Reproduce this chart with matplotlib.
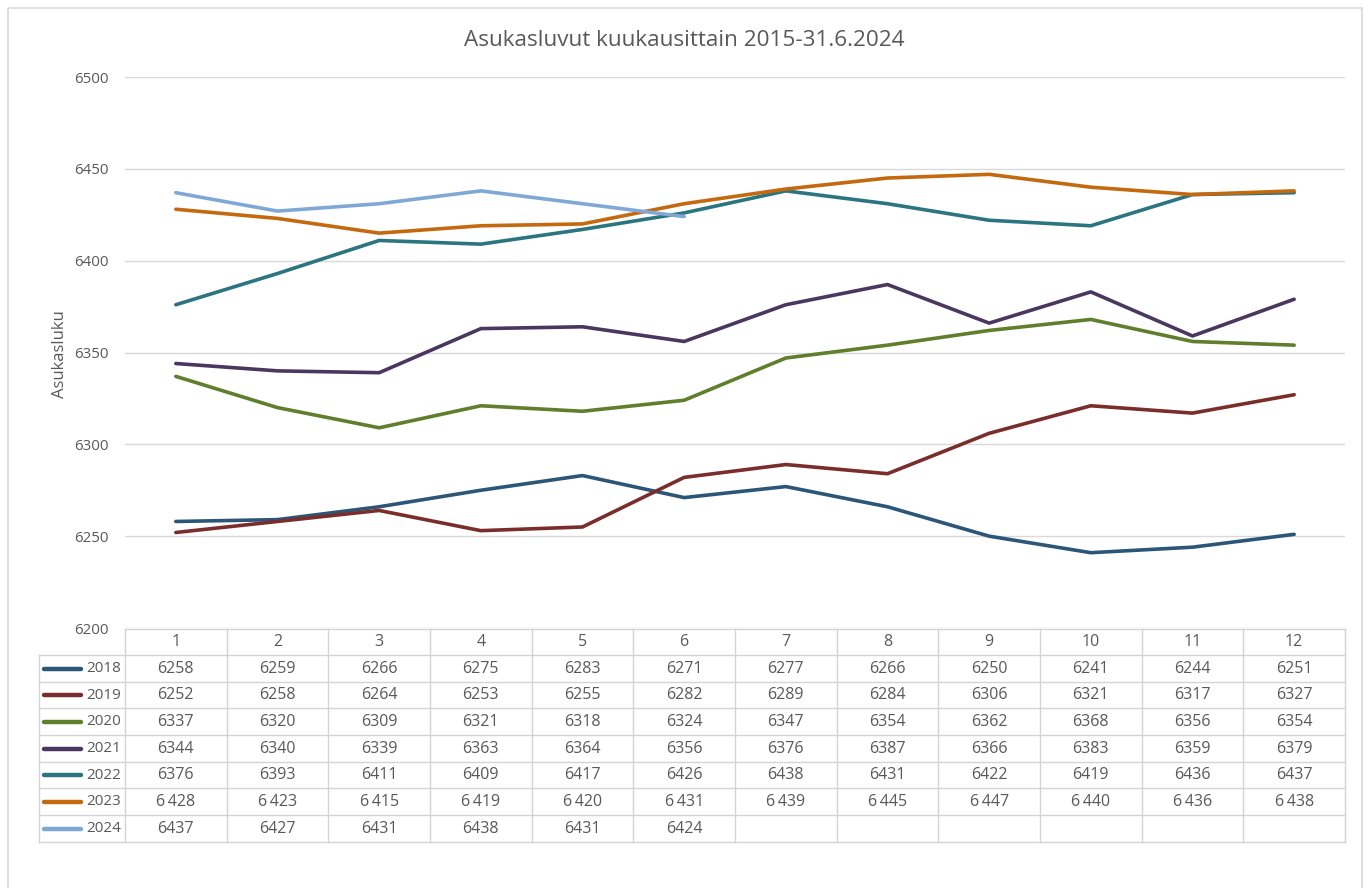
import matplotlib
matplotlib.use("Agg")
import matplotlib.pyplot as plt
from matplotlib.patches import Rectangle

months = [1, 2, 3, 4, 5, 6, 7, 8, 9, 10, 11, 12]
years = ["2018", "2019", "2020", "2021", "2022", "2023", "2024"]
v2018 = [6258, 6259, 6266, 6275, 6283, 6271, 6277, 6266, 6250, 6241, 6244, 6251]
v2019 = [6252, 6258, 6264, 6253, 6255, 6282, 6289, 6284, 6306, 6321, 6317, 6327]
v2020 = [6337, 6320, 6309, 6321, 6318, 6324, 6347, 6354, 6362, 6368, 6356, 6354]
v2021 = [6344, 6340, 6339, 6363, 6364, 6356, 6376, 6387, 6366, 6383, 6359, 6379]
v2022 = [6376, 6393, 6411, 6409, 6417, 6426, 6438, 6431, 6422, 6419, 6436, 6437]
v2023 = [6428, 6423, 6415, 6419, 6420, 6431, 6439, 6445, 6447, 6440, 6436, 6438]
v2024 = [6437, 6427, 6431, 6438, 6431, 6424]
series = [v2018, v2019, v2020, v2021, v2022, v2023, v2024]
colors = ["#2C5677", "#7A2E2B", "#5F7F2C", "#4A3760", "#2B7581", "#C5690F", "#7FA8D6"]
yticks = [6200, 6250, 6300, 6350, 6400, 6450, 6500]
title = "Asukasluvut kuukausittain 2015-31.6.2024"
ylabel = "Asukasluku"

W, H = 1369, 888
FONT = "Open Sans"
TXT = "#595959"
GRID = "#D9D9D9"

fig = plt.figure(figsize=(W / 100, H / 100), dpi=100)
fig.patch.set_facecolor("white")

# overlay axes in pixel coordinates (for border and table)
ov = fig.add_axes([0, 0, 1, 1])
ov.set_xlim(0, W)
ov.set_ylim(H, 0)
ov.axis("off")
ov.add_patch(Rectangle((8, 8), 1354, 900, fill=False, edgecolor="#D9D9D9", lw=1.2))

# main plot
L, R, T, B = 125, 1345, 77, 628
ax = fig.add_axes([L / W, 1 - B / H, (R - L) / W, (B - T) / H])
ax.set_zorder(2)
ax.patch.set_alpha(0)
ax.set_xlim(0.5, 12.5)
ax.set_ylim(6200, 6500)
ax.set_yticks(yticks)
ax.set_xticks([])
ax.grid(axis="y", color=GRID, lw=1.0)
ax.set_axisbelow(True)
for s in ax.spines.values():
    s.set_visible(False)
ax.tick_params(axis="y", length=0, pad=12, labelsize=10.8, labelcolor=TXT)
for lab in ax.get_yticklabels():
    lab.set_fontfamily(FONT)
for vals, c in zip(series, colors):
    ax.plot(months[:len(vals)], vals, color=c, lw=2.6, solid_capstyle="round", solid_joinstyle="round")

fig.text(0.5, 1 - 40 / H, title, ha="center", va="center", fontsize=16.2, color=TXT, family=FONT)
fig.text(60 / W, 1 - 354 / H, ylabel, ha="center", va="center", rotation=90, fontsize=12, color=TXT, family=FONT)

# table
row_y = [629, 655, 682, 708, 735, 762, 788, 815, 842]
colw = (R - L) / 12
LEG_L = 39
tc = "#D4D4D4"
# horizontal lines
ov.plot([L, R], [row_y[0], row_y[0]], color=tc, lw=1)
for y in row_y[1:]:
    ov.plot([LEG_L, R], [y, y], color=tc, lw=1)
# vertical lines
ov.plot([LEG_L, LEG_L], [row_y[1], row_y[-1]], color=tc, lw=1)
for i in range(13):
    x = L + i * colw
    ov.plot([x, x], [row_y[0], row_y[-1]], color=tc, lw=1)

def cy(i):
    return (row_y[i] + row_y[i + 1]) / 2

FS = 11.5
for j, m in enumerate(months):
    ov.text(L + (j + 0.5) * colw, cy(0), str(m), ha="center", va="center", fontsize=FS, color=TXT, family=FONT)

for r, (yr, vals, c) in enumerate(zip(years, series, colors)):
    y = cy(r + 1)
    ov.plot([44, 81], [y, y], color=c, lw=3.2, solid_capstyle="round")
    ov.text(121, y, yr, ha="right", va="center", fontsize=11, color=TXT, family=FONT)
    for j, v in enumerate(vals):
        s = str(v)
        if yr == "2023":
            s = s[0] + "\u2009" + s[1:]
        ov.text(L + (j + 0.5) * colw, y, s, ha="center", va="center", fontsize=FS, color=TXT, family=FONT)

fig.savefig("out.png", dpi=100, facecolor="white")
